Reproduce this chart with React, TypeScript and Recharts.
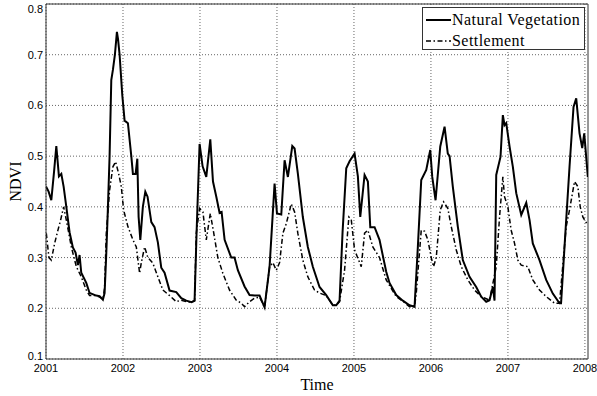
import React from "react";
import { LineChart, Line, XAxis, YAxis, CartesianGrid, Legend, ReferenceLine } from "recharts";

// NDVI time series (time in fractional years)
const natTime = [
  2001.0, 2001.034, 2001.069, 2001.105, 2001.134, 2001.168, 2001.199, 2001.229, 2001.264, 2001.306,
  2001.349, 2001.384, 2001.414, 2001.436, 2001.458, 2001.523, 2001.566, 2001.605, 2001.651, 2001.696,
  2001.739, 2001.761, 2001.781, 2001.8, 2001.826, 2001.848, 2001.869, 2001.895, 2001.921, 2001.936,
  2001.956, 2001.991, 2002.021, 2002.064, 2002.108, 2002.129, 2002.164, 2002.186, 2002.203, 2002.225,
  2002.258, 2002.29, 2002.319, 2002.368, 2002.41, 2002.453, 2002.497, 2002.54, 2002.605, 2002.692,
  2002.757, 2002.822, 2002.891, 2002.93, 2002.956, 2002.995, 2003.034, 2003.082, 2003.134, 2003.169,
  2003.212, 2003.255, 2003.281, 2003.32, 2003.406, 2003.449, 2003.492, 2003.579, 2003.644, 2003.709,
  2003.774, 2003.839, 2003.904, 2003.969, 2004.0, 2004.056, 2004.099, 2004.142, 2004.199, 2004.229,
  2004.271, 2004.336, 2004.401, 2004.466, 2004.553, 2004.64, 2004.726, 2004.77, 2004.813, 2004.852,
  2004.9, 2004.943, 2005.008, 2005.051, 2005.082, 2005.138, 2005.181, 2005.212, 2005.268, 2005.332,
  2005.419, 2005.462, 2005.549, 2005.635, 2005.722, 2005.787, 2005.83, 2005.874, 2005.939, 2005.991,
  2006.017, 2006.06, 2006.121, 2006.177, 2006.219, 2006.242, 2006.284, 2006.349, 2006.414, 2006.501,
  2006.588, 2006.653, 2006.718, 2006.761, 2006.804, 2006.826, 2006.848, 2006.904, 2006.934, 2006.956,
  2006.978, 2007.021, 2007.064, 2007.108, 2007.173, 2007.238, 2007.281, 2007.323, 2007.41, 2007.497,
  2007.583, 2007.67, 2007.69, 2007.735, 2007.8, 2007.852, 2007.887, 2007.93, 2007.965, 2007.991,
  2008.038,
];
const natNdvi = [
  0.44, 0.43, 0.413, 0.47, 0.52, 0.46, 0.465, 0.44, 0.4, 0.35,
  0.32, 0.31, 0.285, 0.305, 0.27, 0.25, 0.23, 0.228, 0.225, 0.224,
  0.217, 0.23, 0.3, 0.38, 0.5, 0.65, 0.67, 0.7, 0.745, 0.73,
  0.7, 0.62, 0.57, 0.565, 0.5, 0.465, 0.465, 0.495, 0.38, 0.335,
  0.4, 0.43, 0.42, 0.37, 0.36, 0.33, 0.28, 0.27, 0.235, 0.232,
  0.22, 0.215, 0.212, 0.215, 0.35, 0.524, 0.48, 0.459, 0.533, 0.45,
  0.42, 0.388, 0.39, 0.335, 0.3, 0.3, 0.275, 0.243, 0.226, 0.225,
  0.225, 0.202, 0.282, 0.446, 0.387, 0.385, 0.492, 0.459, 0.52, 0.515,
  0.466, 0.38, 0.321, 0.282, 0.242, 0.226, 0.206, 0.206, 0.215, 0.35,
  0.476, 0.49, 0.505, 0.46, 0.38, 0.463, 0.45, 0.36, 0.36, 0.335,
  0.272, 0.25, 0.226, 0.215, 0.206, 0.203, 0.321, 0.453, 0.473, 0.512,
  0.459, 0.413, 0.519, 0.558, 0.505, 0.5, 0.44, 0.361, 0.295, 0.262,
  0.242, 0.223, 0.213, 0.216, 0.242, 0.215, 0.463, 0.499, 0.581, 0.561,
  0.565, 0.519, 0.479, 0.427, 0.384, 0.408, 0.374, 0.328, 0.295, 0.256,
  0.229, 0.21, 0.21, 0.321, 0.479, 0.597, 0.614, 0.545, 0.516, 0.545,
  0.459,
];

const setTime = [
  2001.004, 2001.038, 2001.069, 2001.112, 2001.155, 2001.19, 2001.229, 2001.264, 2001.329, 2001.394,
  2001.458, 2001.523, 2001.566, 2001.651, 2001.696, 2001.739, 2001.761, 2001.783, 2001.826, 2001.869,
  2001.904, 2001.943, 2001.978, 2002.008, 2002.064, 2002.129, 2002.173, 2002.216, 2002.238, 2002.281,
  2002.323, 2002.388, 2002.453, 2002.518, 2002.605, 2002.692, 2002.757, 2002.822, 2002.891, 2002.93,
  2002.952, 2002.995, 2003.038, 2003.082, 2003.134, 2003.177, 2003.232, 2003.297, 2003.384, 2003.471,
  2003.536, 2003.579, 2003.644, 2003.709, 2003.774, 2003.839, 2003.904, 2003.947, 2003.991, 2004.034,
  2004.077, 2004.121, 2004.186, 2004.229, 2004.271, 2004.336, 2004.401, 2004.488, 2004.553, 2004.64,
  2004.726, 2004.77, 2004.813, 2004.878, 2004.934, 2004.965, 2005.008, 2005.095, 2005.138, 2005.181,
  2005.245, 2005.332, 2005.419, 2005.549, 2005.635, 2005.722, 2005.787, 2005.809, 2005.874, 2005.917,
  2005.96, 2006.004, 2006.034, 2006.069, 2006.121, 2006.164, 2006.219, 2006.264, 2006.329, 2006.394,
  2006.479, 2006.566, 2006.653, 2006.761, 2006.848, 2006.891, 2006.934, 2006.956, 2006.999, 2007.042,
  2007.086, 2007.129, 2007.173, 2007.258, 2007.323, 2007.41, 2007.497, 2007.605, 2007.67, 2007.757,
  2007.8, 2007.865, 2007.908, 2007.939, 2007.973, 2008.025,
];
const setNdvi = [
  0.348, 0.3, 0.295, 0.328, 0.354, 0.374, 0.4, 0.374, 0.321, 0.282,
  0.262, 0.236, 0.225, 0.225, 0.222, 0.218, 0.24, 0.348, 0.433, 0.479,
  0.489, 0.466, 0.44, 0.394, 0.361, 0.335, 0.321, 0.269, 0.29, 0.321,
  0.3, 0.289, 0.262, 0.236, 0.225, 0.213, 0.216, 0.213, 0.212, 0.215,
  0.348, 0.397, 0.39, 0.335, 0.387, 0.35, 0.3, 0.269, 0.236, 0.216,
  0.21, 0.203, 0.213, 0.22, 0.222, 0.202, 0.282, 0.29, 0.275, 0.29,
  0.348, 0.367, 0.406, 0.39, 0.348, 0.295, 0.262, 0.236, 0.23, 0.225,
  0.206, 0.206, 0.213, 0.275, 0.38, 0.375, 0.315, 0.282, 0.348, 0.354,
  0.321, 0.3, 0.256, 0.223, 0.214, 0.203, 0.203, 0.229, 0.354, 0.352,
  0.335, 0.3, 0.282, 0.3, 0.394, 0.41, 0.397, 0.361, 0.315, 0.282,
  0.256, 0.236, 0.223, 0.216, 0.282, 0.38, 0.459, 0.42, 0.4, 0.354,
  0.328, 0.295, 0.285, 0.282, 0.256, 0.236, 0.223, 0.21, 0.21, 0.361,
  0.394, 0.45, 0.44, 0.4, 0.38, 0.367,
];

const yearTicks = [2001, 2002, 2003, 2004, 2005, 2006, 2007, 2008];
const ndviTicks = [0.1, 0.2, 0.3, 0.4, 0.5, 0.6, 0.7, 0.8];

const X_MAX = 2008.04;

const series = [
  { name: "Natural Vegetation", width: 2, dash: undefined as string | undefined },
  { name: "Settlement", width: 1.5, dash: "5 2.5 1.5 2.5" },
];

const natData = natTime.map((t, i) => ({ t, v: natNdvi[i] }));
const setData = setTime.map((t, i) => ({ t, v: setNdvi[i] }));

const serif = "'Liberation Serif', 'Times New Roman', serif";
const sans = "'Liberation Sans', Arial, sans-serif";

const LegendBox = () => (
  <div
    style={{
      width: 163,
      height: 43,
      boxSizing: "border-box",
      border: "1px solid #333",
      background: "#fff",
      paddingTop: 1,
      fontFamily: serif,
      fontSize: 16,
      letterSpacing: 0.45,
      color: "#000",
      overflow: "visible",
    }}
  >
    {series.map((s) => (
      <div key={s.name} style={{ display: "flex", alignItems: "center", height: 21, paddingLeft: 3, whiteSpace: "nowrap" }}>
        <svg width={25} height={6}>
          <line x1={0} y1={3} x2={25} y2={3} stroke="#000" strokeWidth={s.width} strokeDasharray={s.dash} />
        </svg>
        <span style={{ marginLeft: 1 }}>{s.name}</span>
      </div>
    ))}
  </div>
);

// MATLAB nudges the lowest y label up so it clears the x labels
const NdviTick = (props: any) => {
  const { x, y, payload } = props;
  const lift = payload.value === ndviTicks[0] ? -3 : 0;
  return (
    <text x={x} y={y + lift} textAnchor="end" dominantBaseline="central" fontFamily={sans} fontSize={11} fill="#000">
      {payload.value.toFixed(1)}
    </text>
  );
};

const NdviLabel = (props: any) => {
  const vb = props.viewBox;
  const x = vb.x + 15;
  const y = vb.y + vb.height / 2;
  return (
    <text x={x} y={y} transform={`rotate(-90, ${x}, ${y})`} textAnchor="middle" dominantBaseline="central" fontFamily={serif} fontSize={16} fill="#000">
      NDVI
    </text>
  );
};

const TimeLabel = (props: any) => {
  const vb = props.viewBox;
  return (
    <text x={vb.x + vb.width / 2} y={vb.y + 31} textAnchor="middle" fontFamily={serif} fontSize={16} fill="#000">
      Time
    </text>
  );
};

export default function App() {
  return (
    <div style={{ position: "absolute", left: 0, top: 0, width: 597, height: 396, background: "#fff" }}>
      <LineChart width={597} height={396} margin={{ top: 4, right: 9, left: 0, bottom: 0 }}>
        <CartesianGrid stroke="#666" strokeDasharray="1 2" verticalValues={yearTicks} horizontalValues={ndviTicks} />
        <XAxis
          dataKey="t"
          type="number"
          domain={[2001, X_MAX]}
          ticks={yearTicks}
          allowDataOverflow
          height={37}
          tickSize={0}
          tickMargin={5}
          stroke="#333"
          tick={{ fontSize: 11, fill: "#000", fontFamily: sans }}
          label={<TimeLabel />}
        />
        <YAxis
          type="number"
          domain={[0.1, 0.8]}
          ticks={ndviTicks}
          allowDataOverflow
          width={46}
          tickSize={0}
          tickMargin={3}
          stroke="#333"
          tick={<NdviTick />}
          label={<NdviLabel />}
        />
        <ReferenceLine y={0.8} stroke="#333" strokeWidth={1} />
        <ReferenceLine x={X_MAX} stroke="#333" strokeWidth={1} />
        <Line
          data={natData}
          dataKey="v"
          name={series[0].name}
          type="linear"
          stroke="#000"
          strokeWidth={series[0].width}
          dot={false}
          isAnimationActive={false}
        />
        <Line
          data={setData}
          dataKey="v"
          name={series[1].name}
          type="linear"
          stroke="#000"
          strokeWidth={series[1].width}
          strokeDasharray={series[1].dash}
          dot={false}
          isAnimationActive={false}
        />
        <Legend
          layout="vertical"
          align="center"
          verticalAlign="middle"
          content={<LegendBox />}
          wrapperStyle={{ position: "absolute", left: 422, top: 7, width: 163, height: 43 }}
        />
      </LineChart>
    </div>
  );
}
